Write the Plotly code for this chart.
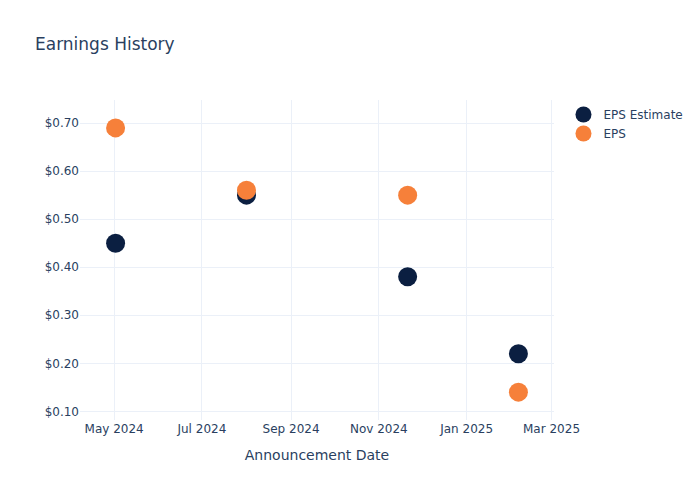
import plotly.graph_objects as go

dates = ["2024-05-02", "2024-08-01", "2024-11-21", "2025-02-06"]
eps_estimate = [0.45, 0.55, 0.38, 0.22]
eps_actual = [0.69, 0.56, 0.55, 0.14]

fig = go.Figure()
fig.add_trace(
    go.Scatter(
        x=dates,
        y=eps_estimate,
        mode="markers",
        name="EPS Estimate",
        marker=dict(color="#0b1f41", size=19),
    )
)
fig.add_trace(
    go.Scatter(
        x=dates,
        y=eps_actual,
        mode="markers",
        name="EPS",
        marker=dict(color="#f6803a", size=19),
    )
)
fig.update_layout(
    title="Earnings History",
    template="plotly_white",
    width=700,
    height=500,
    font=dict(family="DejaVu Sans, Verdana, sans-serif"),
    xaxis_title="Announcement Date",
    yaxis=dict(tickprefix="$", tickformat=".2f"),
)
# page margin off so the 700x500 figure sits at the window origin
fig.write_html(
    "out.html",
    config={"displayModeBar": False},
    post_script="document.body.style.margin = '0';",
)
